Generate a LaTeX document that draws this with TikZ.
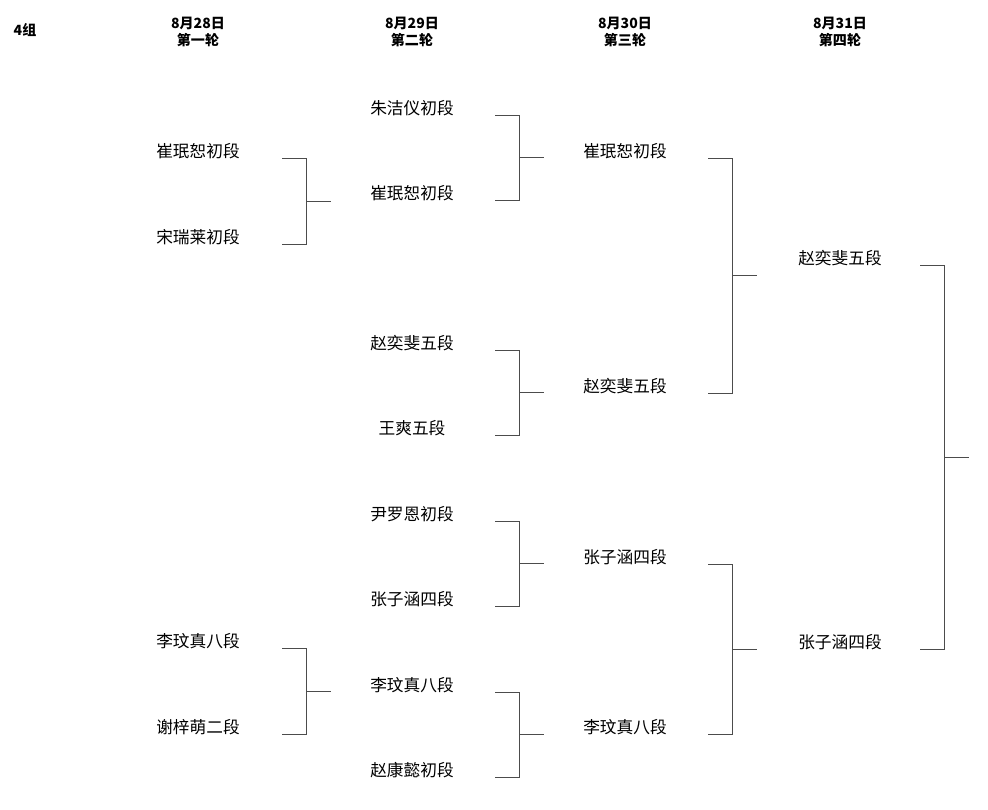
\documentclass[tikz,border=0pt]{standalone}
\usepackage{fontspec}
\newfontfamily\cjk{Noto Sans CJK SC}
\usetikzlibrary{calc,positioning}
% styles for header, player names and bracket lines
\tikzset{
  roundhead/.style={font={\cjk\fontsize{8}{10}\selectfont\bfseries}, align=center},
  player/.style={font={\cjk\fontsize{9.5}{11}\selectfont}, anchor=base},
  link/.style={draw=black!70, line width=0.5pt}
}

\begin{document}
\begin{tikzpicture}[x=0.02cm,y=-0.02cm]
  \useasboundingbox (0,0) rectangle (988,810);

  % --- headers ---
  \node[roundhead] (grp) at (25,30) {4组};
  \node[roundhead] (h1) at (198,32) {8月28日\\第一轮};
  \node[roundhead] (h2) at (412,32) {8月29日\\第二轮};
  \node[roundhead] (h3) at (625,32) {8月30日\\第三轮};
  \node[roundhead] (h4) at (840,32) {8月31日\\第四轮};

  % --- round 1 ---
  \node[player] (a1) at (198,158) {崔珉恕初段};
  \node[player] (a2) at (198,244) {宋瑞莱初段};
  \node[player] (a3) at (198,648) {李玟真八段};
  \node[player] (a4) at (198,734) {谢梓萌二段};

  % --- round 2 ---
  \node[player] (b1) at (412,115) {朱洁仪初段};
  \node[player] (b2) at (412,200) {崔珉恕初段};
  \node[player] (b3) at (412,350) {赵奕斐五段};
  \node[player] (b4) at (412,435) {王爽五段};
  \node[player] (b5) at (412,521) {尹罗恩初段};
  \node[player] (b6) at (412,606) {张子涵四段};
  \node[player] (b7) at (412,692) {李玟真八段};
  \node[player] (b8) at (412,777) {赵康懿初段};

  % --- round 3 ---
  \node[player] (c1) at (625,158) {崔珉恕初段};
  \node[player] (c2) at (625,393) {赵奕斐五段};
  \node[player] (c3) at (625,564) {张子涵四段};
  \node[player] (c4) at (625,734) {李玟真八段};

  % --- round 4 ---
  \node[player] (d1) at (840,265) {赵奕斐五段};
  \node[player] (d2) at (840,649) {张子涵四段};

  % --- bracket columns ---
  \coordinate (x1) at (282,0);
  \coordinate (x2) at (495,0);
  \coordinate (x3) at (708,0);
  \coordinate (x4) at (920,0);

  % --- brackets: upper, lower, column ---
  \foreach \u/\l/\c in {a1/a2/x1, a3/a4/x1, b1/b2/x2, b3/b4/x2,
                        b5/b6/x2, b7/b8/x2, c1/c2/x3, c3/c4/x3, d1/d2/x4} {
    \coordinate (p) at (\u.base -| \c);
    \coordinate (q) at (\l.base -| \c);
    \draw[link] (p) -- ++(24,0) coordinate (t) -- (t |- q) coordinate (s) -- (q);
    \draw[link] ($(t)!0.5!(s)$) -- ++(25,0);
  }
\end{tikzpicture}
\end{document}
